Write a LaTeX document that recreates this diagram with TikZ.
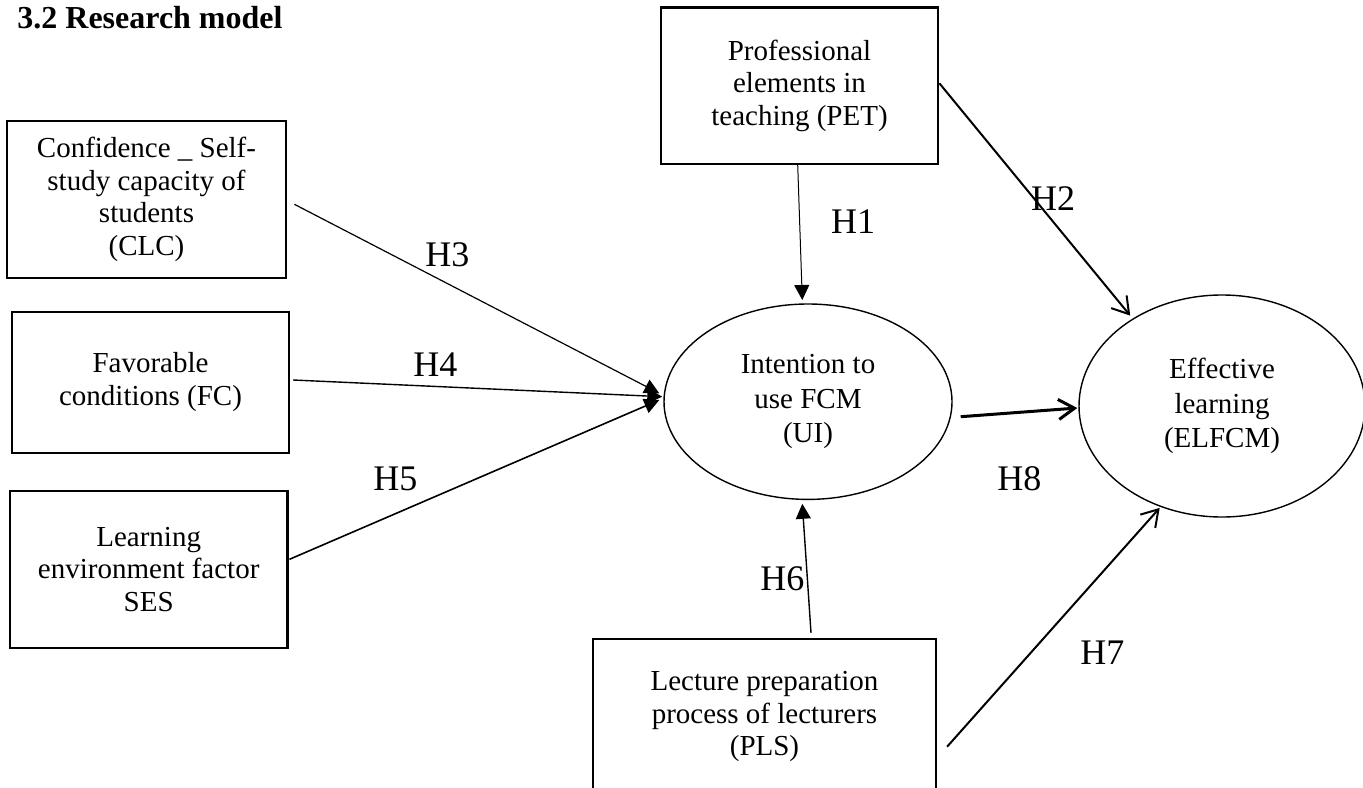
\documentclass[tikz,border=0pt]{standalone}
\usepackage{fontspec}
\setmainfont{Liberation Serif}
\usetikzlibrary{shapes.geometric,arrows.meta}
\begin{document}
\begin{tikzpicture}[x=0.5pt, y=-0.5pt,
box/.style={draw, line width=1.1pt, align=center, inner sep=0pt, font=\fontsize{14.5}{16.3}\selectfont},
latent/.style={ellipse, draw, line width=0.7pt, align=center, inner sep=0pt, font=\fontsize{14.5}{17.3}\selectfont},
hyp/.style={inner sep=0pt, anchor=base west, font=\fontsize{18}{20}\selectfont},
solid head/.style={-{Triangle[length=7.5pt,width=7.5pt]}},
open head/.style={-{Straight Barb[length=8pt,width=10pt]}}]
\useasboundingbox (0,0) rectangle (1363,787);
\node[anchor=base west, inner sep=0pt, font=\fontsize{16}{18}\selectfont\bfseries] (title) at (17,28) {3.2 Research model};
\node[box, minimum width=139.2pt, minimum height=78.8pt] (CLC) at (146.5,199.5) {Confidence \_ Self-\\study capacity of\\students\\(CLC)};
\node[box, minimum width=138.8pt, minimum height=70.5pt] (FC) at (150.5,382.2) {Favorable\\conditions (FC)};
\node[box, minimum width=138.7pt, minimum height=78.8pt] (SES) at (148.7,569.5) {Learning\\environment factor\\SES};
\node[box, minimum width=138.8pt, minimum height=78.3pt] (PET) at (799.5,85.7) {Professional\\elements in\\teaching (PET)};
\node[box, minimum width=171.5pt, minimum height=77.5pt] (PLS) at (764.5,716.7) {Lecture preparation\\process of lecturers\\(PLS)};
\node[latent, minimum width=144pt, minimum height=97.7pt] (UI) at (808,401.7) {Intention to\\use FCM\\(UI)};
\node[latent, minimum width=143pt, minimum height=111pt] (EL) at (1222,406) {Effective\\learning\\(ELFCM)};
\draw[solid head, line width=0.5pt] ([xshift=-0.9pt]PET.south) -- ([xshift=-2.85pt,yshift=1.65pt]UI.north);
\draw[open head, line width=1pt] ([yshift=1.2pt]PET.east) -- ([xshift=-1.8pt,yshift=1.1pt]EL.135);
\draw[solid head, line width=0.6pt] ([xshift=3.8pt,yshift=-2.4pt]CLC.east) -- ([xshift=-2pt,yshift=4.2pt]UI.west);
\draw[solid head, line width=0.7pt] ([xshift=1.35pt,yshift=1.1pt]FC.east) -- ([xshift=-0.5pt,yshift=2.5pt]UI.west);
\draw[solid head, line width=0.8pt] ([xshift=0.5pt,yshift=5.1pt]SES.east) -- ([xshift=-2pt,yshift=0.85pt]UI.west);
\draw[solid head, line width=0.7pt] ([xshift=23.25pt,yshift=2.65pt]PLS.north) -- ([xshift=-2.85pt,yshift=-1.85pt]UI.south);
\draw[open head, line width=1pt] ([xshift=5pt,yshift=-15pt]PLS.east) -- ([xshift=-1.75pt]EL.240);
\draw[open head, line width=1.5pt] ([xshift=4pt,yshift=-7.5pt]UI.east) -- ([xshift=-0.5pt,yshift=-1pt]EL.west);
\node[hyp] (h1) at (830.7,233) {H1};
\node[hyp] (h2) at (1030.7,210.7) {H2};
\node[hyp] (h3) at (425,266) {H3};
\node[hyp] (h4) at (413,376) {H4};
\node[hyp] (h5) at (373,490) {H5};
\node[hyp] (h6) at (760,590) {H6};
\node[hyp] (h7) at (1080,664) {H7};
\node[hyp] (h8) at (997,490) {H8};
\end{tikzpicture}
\end{document}
